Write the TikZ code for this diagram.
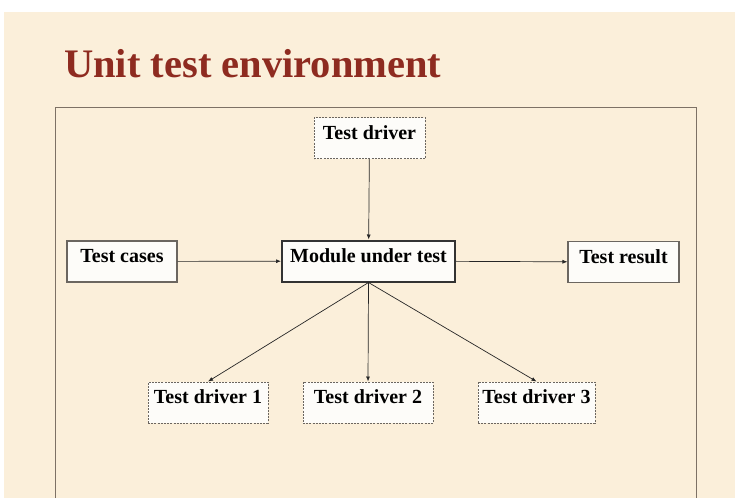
\documentclass[tikz,border=0pt]{standalone}
\usepackage{fontspec}
\setmainfont{Liberation Serif}
\usetikzlibrary{arrows.meta,positioning}
\definecolor{parchment}{HTML}{FBEFDA}
\definecolor{boxfill}{HTML}{FDFCF9}
\definecolor{boxgray}{HTML}{6B6660}
\definecolor{framecol}{HTML}{7D7165}
\definecolor{titlered}{HTML}{8E2B20}
\tikzset{
unitbox/.style={
  draw=boxgray,
  fill=boxfill,
  line width=1.1pt,
  inner sep=0pt,
  text height=21.5pt,
  text depth=19.5pt,
  align=center,
  font=\bfseries\fontsize{20}{20}\selectfont
  },
drvbox/.style={
  unitbox,
  line width=1pt,
  dash pattern=on 2pt off 1.2pt
  },
mutbox/.style={
  unitbox,
  draw=black!80,
  line width=2pt
  },
conn/.style={
  draw=black!85,
  line width=0.7pt,
  -{Latex[length=5pt,width=4pt]}
  }
}
\begin{document}
\begin{tikzpicture}[x=1pt,y=-1pt]
\useasboundingbox (0,0) rectangle (735,498);
\fill[white] (0,0) rectangle (735,498);
\fill[parchment] (4,12) rectangle (735,498);
\node[anchor=base west,text=titlered,inner sep=0pt,
      font=\bfseries\fontsize{40.5}{40.5}\selectfont] (title) at (64,77.5) {Unit test environment};
\draw[framecol,line width=1pt] (55,498) -- (55,107) -- (696,107) -- (696,498);

\node[mutbox,minimum width=173pt] (mut) at (368.5,261) {Module under test};
\node[drvbox,minimum width=111pt] (td) at (369.5,138) {Test driver};
\node[unitbox,minimum width=110pt] (tc) at (122,261.5) {Test cases};
\node[unitbox,minimum width=111pt] (tr) at (623.5,262) {Test result};
\node[drvbox,minimum width=120pt] (td1) at (208,402.5) {Test driver 1};
\node[drvbox,minimum width=130pt] (td2) at (368,402.5) {Test driver 2};
\node[drvbox,minimum width=117pt] (td3) at (536.5,402.5) {Test driver 3};

\draw[conn] (td) -- (mut);
\draw[conn] (tc) -- (mut);
\draw[conn] (mut) -- (tr);
\foreach \d in {td1,td2,td3}
  \draw[conn] (mut.south) -- (\d.north);
\end{tikzpicture}
\end{document}
